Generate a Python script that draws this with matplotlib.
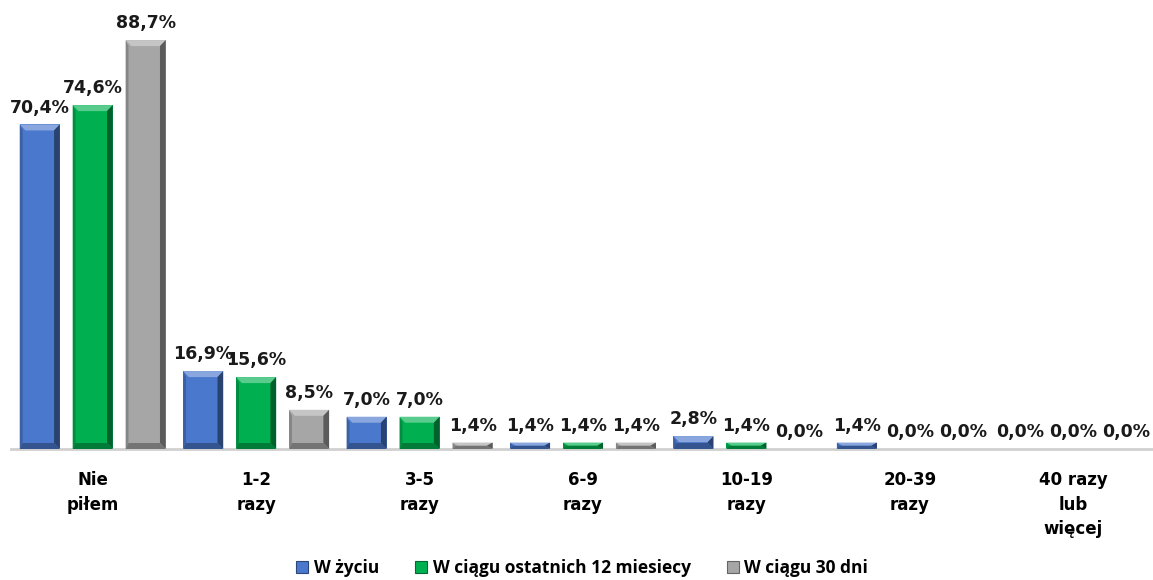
import numpy as np
import matplotlib.pyplot as plt
from matplotlib.patches import Polygon, Patch
from matplotlib.colors import to_rgb

plt.rcParams['font.family'] = ['DejaVu Sans']

categories = ['Nie\npiłem', '1-2\nrazy', '3-5\nrazy', '6-9\nrazy',
              '10-19\nrazy', '20-39\nrazy', '40 razy\nlub\nwięcej']
series_names = ['W życiu', 'W ciągu ostatnich 12 miesiecy', 'W ciągu 30 dni']
w_zyciu = [70.4, 16.9, 7.0, 1.4, 2.8, 1.4, 0.0]
w_12_mies = [74.6, 15.6, 7.0, 1.4, 1.4, 0.0, 0.0]
w_30_dni = [88.7, 8.5, 1.4, 1.4, 0.0, 0.0, 0.0]

colors = ['#4a78cc', '#00b050', '#a6a6a6']


def shade(c, f):
    r, g, b = to_rgb(c)
    if f > 0:
        return (r + (1 - r) * f, g + (1 - g) * f, b + (1 - b) * f)
    return (r * (1 + f), g * (1 + f), b * (1 + f))


def bevel_bar(ax, x, h, w, color, bx=0.035, by=1.3):
    if h <= 0:
        return
    by = min(by, h / 2.0)
    x0, x1 = x - w / 2, x + w / 2
    ax.add_patch(plt.Rectangle((x0, 0), w, h, color=color, lw=0, zorder=2))
    # top face, light
    ax.add_patch(Polygon([(x0, h), (x1, h), (x1 - bx, h - by), (x0 + bx, h - by)],
                         closed=True, color=shade(color, 0.35), lw=0, zorder=3))
    # right face, dark
    ax.add_patch(Polygon([(x1, h), (x1, 0), (x1 - bx, by), (x1 - bx, h - by)],
                         closed=True, color=shade(color, -0.45), lw=0, zorder=3))
    # left face
    ax.add_patch(Polygon([(x0, h), (x0, 0), (x0 + bx * 0.5, by), (x0 + bx * 0.5, h - by)],
                         closed=True, color=shade(color, -0.2), lw=0, zorder=3))
    # bottom face
    ax.add_patch(Polygon([(x0, 0), (x1, 0), (x1 - bx, by), (x0 + bx * 0.5, by)],
                         closed=True, color=shade(color, -0.3), lw=0, zorder=3))


fig = plt.figure(figsize=(11.53, 5.8), dpi=100)
ax = fig.add_axes([11 / 1153, 131 / 580, 1144 / 1153, 449 / 580])

x = np.arange(len(categories))
width = 0.245
step = 0.324
for k, (vals, col) in enumerate(zip([w_zyciu, w_12_mies, w_30_dni], colors)):
    pos = x + (k - 1) * step
    for p, v in zip(pos, vals):
        bevel_bar(ax, p, v, width, col)
        ax.text(p, v + 1.7, f'{v:.1f}%'.replace('.', ','), ha='center', va='bottom',
                fontsize=12.5, fontweight='bold', color='#1a1a1a', zorder=4)

ax.set_xlim(-0.5, 6.5)
ax.set_ylim(0, 97.4)
for s in ['top', 'right', 'left']:
    ax.spines[s].set_visible(False)
ax.spines['bottom'].set_color('#d0d0d0')
ax.spines['bottom'].set_linewidth(2)
ax.set_yticks([])
ax.set_xticks(x)
ax.set_xticklabels(categories, fontsize=12, fontweight='bold', linespacing=1.45)
ax.tick_params(axis='x', length=0, pad=16)

handles = [Patch(facecolor=c, edgecolor=shade(c, -0.4), lw=0.8) for c in colors]
fig.legend(handles, series_names, loc='lower center', ncol=3, frameon=False,
           bbox_to_anchor=(0.505, -0.022), handlelength=0.7, handleheight=0.7,
           handletextpad=0.3, columnspacing=2.1,
           prop={'family': 'Open Sans', 'weight': 'bold', 'size': 12.5})

fig.savefig('out.png', dpi=100)
